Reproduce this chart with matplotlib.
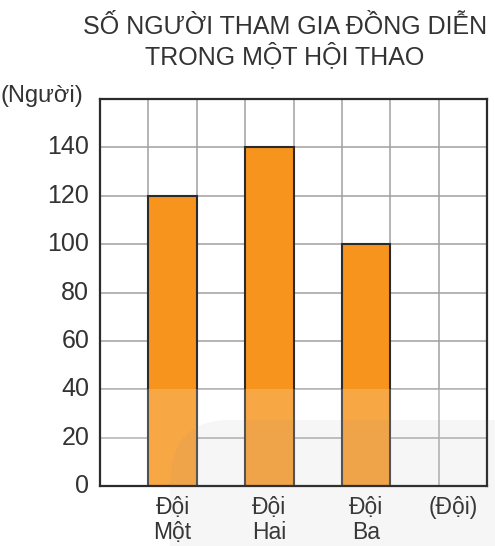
import numpy as np
import matplotlib
matplotlib.use("Agg")
import matplotlib.pyplot as plt
from matplotlib.patches import FancyBboxPatch, Rectangle

plt.rcParams['font.family'] = ['Liberation Sans', 'DejaVu Sans']

title = "SỐ NGƯỜI THAM GIA ĐỒNG DIỄN\nTRONG MỘT HỘI THAO"
teams = ["Đội\nMột", "Đội\nHai", "Đội\nBa"]
people = [120, 140, 100]
y_ticks = [0, 20, 40, 60, 80, 100, 120, 140]
y_unit = "(Người)"
x_unit = "(Đội)"

BAR = '#f7941d'
TEXT = '#333333'

fig = plt.figure(figsize=(4.95, 5.46), dpi=100)
# axes box in pixels: left 100, right 487, top 99, bottom 486
W, H = 495, 546
ax = fig.add_axes([100 / W, (H - 486) / H, 387 / W, 387 / H])

pos = np.arange(len(teams)) * 2 + 1.5
ax.bar(pos, people, width=1.0, color=BAR, edgecolor='#2b2b2b',
       linewidth=1.5, zorder=3)

ax.set_xlim(0, 8)
ax.set_ylim(0, 160)
ax.set_xticks(np.arange(0, 9))
ax.set_yticks(np.arange(0, 161, 20))
ax.grid(True, color='#a0a0a0', linewidth=1.1, zorder=0)
ax.tick_params(length=0, labelbottom=False, labelleft=False)
for s in ax.spines.values():
    s.set_color('#2b2b2b')
    s.set_linewidth(1.6)
    s.set_zorder(4)

for v in y_ticks:
    ax.text(-0.22, v, str(v), ha='right', va='center', fontsize=18,
            color=TEXT)
for p, lbl in zip(pos, teams):
    ax.text(p, -4, lbl, ha='center', va='top', fontsize=16.5,
            color=TEXT, linespacing=1.15)
ax.text(7.3, -4, x_unit, ha='center', va='top', fontsize=16.5, color=TEXT)

fig.text(0 / W, 1 - 96 / H, y_unit, ha='left', va='center', fontsize=17,
         color=TEXT)
fig.text(285 / W, 1 - 42 / H, title, ha='center', va='center',
         fontsize=18, color=TEXT, linespacing=1.15)

# faint watermark seen in the picture
fig.patches.append(FancyBboxPatch((170 / W, -0.2), 1.0, (H - 420) / H + 0.2,
                                  boxstyle="round,pad=0,rounding_size=0.12",
                                  transform=fig.transFigure,
                                  facecolor='#808080', alpha=0.07,
                                  edgecolor='none', zorder=10))
ax.add_patch(Rectangle((0, 0), 8, 40, facecolor='white', alpha=0.18,
                       edgecolor='none', zorder=3.5))

fig.savefig("out.png", dpi=100)
